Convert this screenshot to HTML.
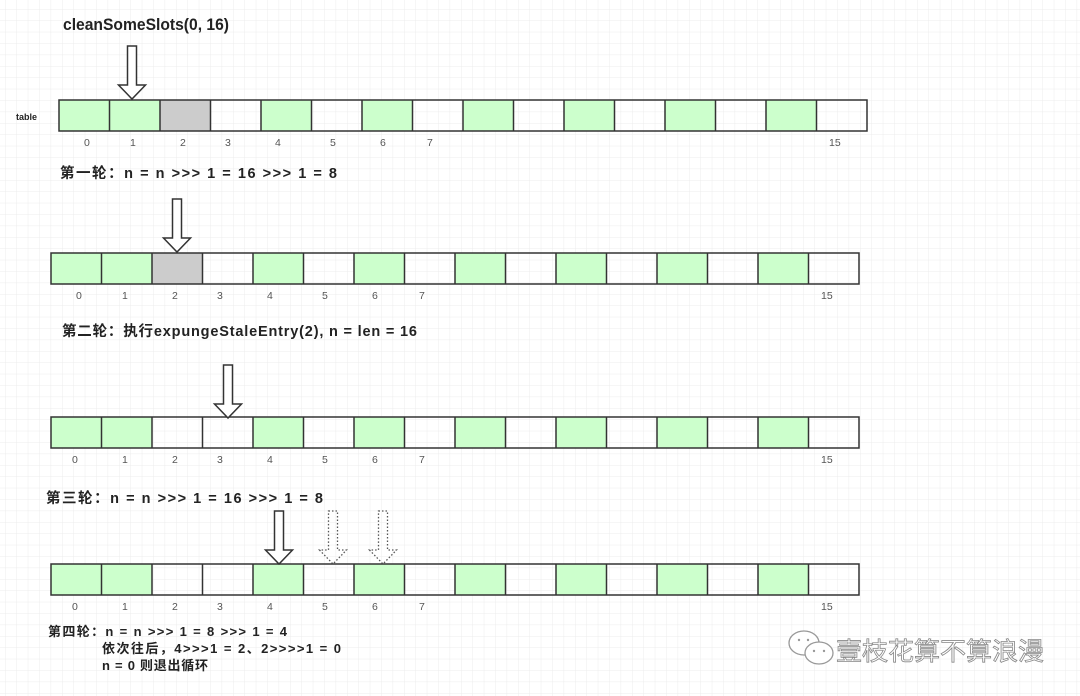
<!DOCTYPE html>
<html><head><meta charset="utf-8"><style>
html,body{margin:0;padding:0;background:#fff}
svg{display:block}
.t{font-family:"Liberation Sans","Noto Sans CJK SC",sans-serif;font-weight:bold;fill:#222}
.n{font-family:"Liberation Sans",sans-serif;font-size:10.5px;fill:#555}
</style></head><body>
<svg width="1080" height="696" viewBox="0 0 1080 696" xmlns="http://www.w3.org/2000/svg">
<defs>
<pattern id="grid" x="5" y="9" width="11.4" height="11.4" patternUnits="userSpaceOnUse">
<path d="M0 0H11.4M0 0V11.4" stroke="#ececec" stroke-width="1" fill="none"/>
</pattern>
<g id="row">
<rect x="0" y="0" width="50.5" height="31" fill="#ccffcc"/>
<rect x="50.5" y="0" width="50.5" height="31" fill="#ccffcc"/>
<rect x="202" y="0" width="50.5" height="31" fill="#ccffcc"/>
<rect x="303" y="0" width="50.5" height="31" fill="#ccffcc"/>
<rect x="404" y="0" width="50.5" height="31" fill="#ccffcc"/>
<rect x="505" y="0" width="50.5" height="31" fill="#ccffcc"/>
<rect x="606" y="0" width="50.5" height="31" fill="#ccffcc"/>
<rect x="707" y="0" width="50.5" height="31" fill="#ccffcc"/>
<path d="M50.5 0V31M101 0V31M151.5 0V31M202 0V31M252.5 0V31M303 0V31M353.5 0V31M404 0V31M454.5 0V31M505 0V31M555.5 0V31M606 0V31M656.5 0V31M707 0V31M757.5 0V31" stroke="#333" stroke-width="1.5"/>
<rect x="0" y="0" width="808" height="31" fill="none" stroke="#333" stroke-width="1.5"/>
</g>
<path id="arr" d="M-4.5 0H4.5V39H13.5L0 53L-13.5 39H-4.5Z"/>
</defs>
<rect width="1080" height="696" fill="url(#grid)"/>

<text class="t" x="63" y="30" font-size="17" textLength="166" lengthAdjust="spacingAndGlyphs">cleanSomeSlots(0, 16)</text>
<text class="t" x="16" y="120" font-size="9">table</text>

<!-- row1 -->
<g transform="translate(59,100)">
<rect x="101" y="0" width="50.5" height="31" fill="#cccccc"/>
<use href="#row"/>
<text class="n" x="25" y="46">0</text><text class="n" x="71" y="46">1</text><text class="n" x="121" y="46">2</text><text class="n" x="166" y="46">3</text><text class="n" x="216" y="46">4</text><text class="n" x="271" y="46">5</text><text class="n" x="321" y="46">6</text><text class="n" x="368" y="46">7</text><text class="n" x="770" y="46">15</text>
</g>
<use href="#arr" x="132" y="46" fill="#fff" stroke="#333" stroke-width="1.5"/>
<text class="t" x="60" y="178" font-size="14.5" textLength="277" lengthAdjust="spacing">第一轮：n = n &gt;&gt;&gt; 1 = 16 &gt;&gt;&gt;  1 = 8</text>

<!-- row2 -->
<g transform="translate(51,253)">
<rect x="101" y="0" width="50.5" height="31" fill="#cccccc"/>
<use href="#row"/>
<text class="n" x="25" y="46">0</text><text class="n" x="71" y="46">1</text><text class="n" x="121" y="46">2</text><text class="n" x="166" y="46">3</text><text class="n" x="216" y="46">4</text><text class="n" x="271" y="46">5</text><text class="n" x="321" y="46">6</text><text class="n" x="368" y="46">7</text><text class="n" x="770" y="46">15</text>
</g>
<use href="#arr" x="177" y="199" fill="#fff" stroke="#333" stroke-width="1.5"/>
<text class="t" x="62" y="336" font-size="14.5" textLength="355" lengthAdjust="spacing">第二轮：执行expungeStaleEntry(2), n = len = 16</text>

<!-- row3 -->
<g transform="translate(51,417)">
<use href="#row"/>
<text class="n" x="21" y="46">0</text><text class="n" x="71" y="46">1</text><text class="n" x="121" y="46">2</text><text class="n" x="166" y="46">3</text><text class="n" x="216" y="46">4</text><text class="n" x="271" y="46">5</text><text class="n" x="321" y="46">6</text><text class="n" x="368" y="46">7</text><text class="n" x="770" y="46">15</text>
</g>
<use href="#arr" x="228" y="365" fill="#fff" stroke="#333" stroke-width="1.5"/>
<text class="t" x="46" y="503" font-size="14.5" textLength="277" lengthAdjust="spacing">第三轮：n = n &gt;&gt;&gt; 1 = 16 &gt;&gt;&gt; 1  = 8</text>

<!-- row4 -->
<g transform="translate(51,564)">
<use href="#row"/>
<text class="n" x="21" y="46">0</text><text class="n" x="71" y="46">1</text><text class="n" x="121" y="46">2</text><text class="n" x="166" y="46">3</text><text class="n" x="216" y="46">4</text><text class="n" x="271" y="46">5</text><text class="n" x="321" y="46">6</text><text class="n" x="368" y="46">7</text><text class="n" x="770" y="46">15</text>
</g>
<use href="#arr" x="279" y="511" fill="#fff" stroke="#333" stroke-width="1.5"/>
<use href="#arr" x="333" y="511" fill="none" stroke="#555" stroke-width="1.3" stroke-dasharray="1.5 2"/>
<use href="#arr" x="383" y="511" fill="none" stroke="#555" stroke-width="1.3" stroke-dasharray="1.5 2"/>
<text class="t" x="48" y="636" font-size="13" textLength="239" lengthAdjust="spacing">第四轮：n = n &gt;&gt;&gt; 1 = 8 &gt;&gt;&gt; 1 = 4</text>
<text class="t" x="102" y="653" font-size="13" textLength="239" lengthAdjust="spacing">依次往后，4&gt;&gt;&gt;1 = 2、2&gt;&gt;&gt;&gt;1 = 0</text>
<text class="t" x="102" y="670" font-size="13" textLength="106" lengthAdjust="spacing">n = 0 则退出循环</text>

<!-- watermark -->
<g fill="#fff" stroke="#999" stroke-width="1.3">
<ellipse cx="804" cy="643" rx="15" ry="12"/>
<ellipse cx="819" cy="653" rx="14" ry="11"/>
</g>
<g fill="#999"><circle cx="799" cy="640" r="1.2"/><circle cx="808" cy="640" r="1.2"/><circle cx="814" cy="651" r="1.2"/><circle cx="824" cy="651" r="1.2"/></g>
<text x="836" y="660" font-family="'Liberation Sans','Noto Sans CJK SC',sans-serif" font-size="25" fill="#fff" stroke="#888" stroke-width="0.8" textLength="208" lengthAdjust="spacingAndGlyphs">壹枝花算不算浪漫</text>
</svg>
</body></html>
